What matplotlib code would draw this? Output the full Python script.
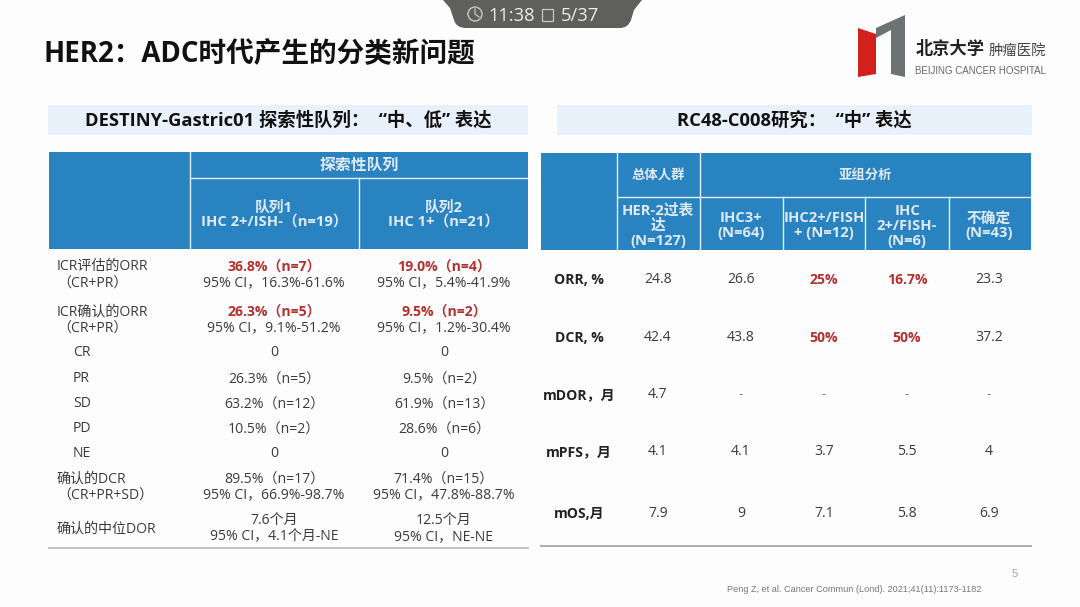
import matplotlib
matplotlib.use("Agg")
import matplotlib.pyplot as plt
from matplotlib.patches import Rectangle, Polygon, Circle, PathPatch
from matplotlib.path import Path

plt.rcParams['font.family'] = ['Open Sans', 'Noto Sans CJK SC', 'DejaVu Sans']

# ---------- data ----------
title = "HER2：ADC时代产生的分类新问题"
left_band = "DESTINY-Gastric01 探索性队列：  “中、低” 表达"
right_band = "RC48-C008研究：  “中” 表达"

left_super = "探索性队列"
left_cols = ["队列1\nIHC 2+/ISH-（n=19）", "队列2\nIHC 1+（n=21）"]
left_labels = ["ICR评估的ORR\n（CR+PR）", "ICR确认的ORR\n（CR+PR）", "CR", "PR", "SD", "PD", "NE",
               "确认的DCR\n（CR+PR+SD）", "确认的中位DOR"]
left_main_1 = ["36.8%（n=7）", "26.3%（n=5）", "0", "26.3%（n=5）", "63.2%（n=12）", "10.5%（n=2）", "0",
               "89.5%（n=17）", "7.6个月"]
left_sub_1 = ["95% CI，16.3%-61.6%", "95% CI，9.1%-51.2%", "", "", "", "", "",
              "95% CI，66.9%-98.7%", "95% CI，4.1个月-NE"]
left_main_2 = ["19.0%（n=4）", "9.5%（n=2）", "0", "9.5%（n=2）", "61.9%（n=13）", "28.6%（n=6）", "0",
               "71.4%（n=15）", "12.5个月"]
left_sub_2 = ["95% CI，5.4%-41.9%", "95% CI，1.2%-30.4%", "", "", "", "", "",
              "95% CI，47.8%-88.7%", "95% CI，NE-NE"]
left_red_rows = [0, 1]

right_top = ["总体人群", "亚组分析"]
right_cols = ["HER-2过表\n达\n(N=127)", "IHC3+\n(N=64)", "IHC2+/FISH\n+ (N=12)", "IHC\n2+/FISH-\n(N=6)", "不确定\n(N=43)"]
right_labels = ["ORR, %", "DCR, %", "mDOR，月", "mPFS，月", "mOS,月"]
right_overall = ["24.8", "42.4", "4.7", "4.1", "7.9"]
right_ihc3 = ["26.6", "43.8", "-", "4.1", "9"]
right_fish_pos = ["25%", "50%", "-", "3.7", "7.1"]
right_fish_neg = ["16.7%", "50%", "-", "5.5", "5.8"]
right_unknown = ["23.3", "37.2", "-", "4", "6.9"]
right_red = ["25%", "16.7%", "50%"]

footnote = "Peng Z, et al. Cancer Commun (Lond). 2021;41(11):1173-1182"
page_no = "5"
clock_text = "11:38"
slide_text = "5/37"

# ---------- layout / style ----------
BLUE = "#2a83c1"
BAND = "#e8f1f9"
HEAD = "#dfeaf4"
INK = "#3a3a3a"
RED = "#b3302e"
BG = "#fdfdfd"
DY = 0.8
BODY = 10.1

fig = plt.figure(figsize=(10.8, 6.07), dpi=100, facecolor=BG)
ax = fig.add_axes([0, 0, 1, 1])
ax.set_xlim(0, 1080)
ax.set_ylim(607, 0)
ax.axis("off")


def T(x, y, s, size=BODY, color=INK, ha="center", weight="normal", **kw):
    ax.text(x, y + DY, s, fontsize=size, color=color, ha=ha, va="center", fontweight=weight, **kw)


def head(x, y, s, size=10.6):
    ax.text(x, y + DY, s, fontsize=size, color=HEAD, ha="center", va="center",
            fontweight="bold", linespacing=1.07, multialignment="center")


# status pill
pill = Path([(443, 0), (450, 8), (454, 20), (456, 28), (466, 28), (620, 28), (628, 28), (631, 20), (634, 10), (642, 0), (443, 0)],
            [Path.MOVETO, Path.LINETO, Path.LINETO, Path.CURVE3, Path.CURVE3, Path.LINETO,
             Path.CURVE3, Path.CURVE3, Path.LINETO, Path.LINETO, Path.CLOSEPOLY])
ax.add_patch(PathPatch(pill, fc="#5f605d", ec="none"))
ax.add_patch(Circle((475, 14), 7, fc="none", ec="#c8c8c8", lw=1))
ax.plot([475, 475, 479], [9, 14, 17], color="#c8c8c8", lw=0.9)
T(488, 15, clock_text, size=13.2, color="#ececec", ha="left")
ax.add_patch(Rectangle((542, 9), 10.5, 11.5, fc="none", ec="#c8c8c8", lw=0.9))
T(561, 15, slide_text, size=13.2, color="#ececec", ha="left")

# title
T(44, 54, title, size=19.9, color="#111111", ha="left", weight="bold")

# logo
ax.add_patch(Polygon([(858, 28), (876, 34), (876, 74), (858, 77)], closed=True, fc="#d2201d", ec="none"))
ax.add_patch(Polygon([(876, 28), (905, 15), (905, 77), (891, 74), (891, 30), (876, 38)],
                     closed=True, fc="#6e7272", ec="none"))
T(916, 48, "北京大学", size=12.4, color="#222222", ha="left", family=["Noto Sans CJK SC"], weight="bold")
T(989, 50, "肿瘤医院", size=10.4, color="#444444", ha="left", family=["Noto Sans CJK SC"])
T(915, 70, "BEIJING CANCER HOSPITAL", size=7.0, color="#666666", ha="left",
  family=["Liberation Sans"])

# bands
ax.add_patch(Rectangle((48, 105), 480, 30, fc=BAND, ec="none"))
ax.add_patch(Rectangle((557, 105), 475, 30, fc=BAND, ec="none"))
T(288, 120, left_band, size=13.2, color="#111111", weight="bold")
T(794, 120, right_band, size=13.2, color="#111111", weight="bold")

# left table header
ax.add_patch(Rectangle((49, 152), 479, 97, fc=BLUE, ec="none"))
for xs, ys in [([190, 190], [152, 249]), ([190, 528], [178, 178]), ([359, 359], [178, 249])]:
    ax.plot(xs, ys, color="#e4eef6", lw=1)
head(359, 165, left_super, size=11.4)
left_centers = [274, 444]
for c, s in zip(left_centers, left_cols):
    head(c, 214, s)

# left table body
left_single_y = {2: 352, 3: 378, 4: 403, 5: 428, 6: 453}
left_double_y = {0: (266, 282), 1: (311, 327), 7: (478, 494), 8: (520, 536)}
for i, lab in enumerate(left_labels):
    if i in left_single_y:
        y = left_single_y[i]
        T(73, y, lab, ha="left")
        T(left_centers[0], y, left_main_1[i])
        T(left_centers[1], y, left_main_2[i])
    else:
        y1, y2 = left_double_y[i]
        if "\n" in lab:
            a, b = lab.split("\n")
            T(57, y1, a, ha="left")
            T(57, y2, b, ha="left")
        else:
            T(57, (y1 + y2) / 2, lab, ha="left")
        red = i in left_red_rows
        for c, m, s in ((left_centers[0], left_main_1[i], left_sub_1[i]),
                        (left_centers[1], left_main_2[i], left_sub_2[i])):
            T(c, y1, m, color=RED if red else INK, weight="bold" if red else "normal")
            T(c, y2, s)
ax.plot([49, 528], [548, 548], color="#b5b5b5", lw=1.2)

# right table header
ax.add_patch(Rectangle((541, 153), 490, 97, fc=BLUE, ec="none"))
for x in [617, 700]:
    ax.plot([x, x], [153, 250], color="#e4eef6", lw=1)
for x in [783, 865, 949]:
    ax.plot([x, x], [197, 250], color="#e4eef6", lw=1)
ax.plot([617, 1031], [197, 197], color="#e4eef6", lw=1)
right_centers = [658, 741, 824, 907, 989]
head(658, 175, right_top[0], size=9.6)
head(865, 175, right_top[1], size=9.6)
for c, s in zip(right_centers, right_cols):
    head(c, 225, s)

# right table body
right_y = [279, 337, 394, 451, 513]
columns = [right_overall, right_ihc3, right_fish_pos, right_fish_neg, right_unknown]
for r, (y, lab) in enumerate(zip(right_y, right_labels)):
    T(579, y, lab, size=BODY, color="#222222", weight="bold")
    for c, col in zip(right_centers, columns):
        v = col[r]
        red = v in right_red
        T(c, y, v, color=RED if red else ("#888888" if v == "-" else INK),
          weight="bold" if red else "normal")
ax.plot([541, 1031], [546, 546], color="#a4acb8", lw=1.4)

# footer
T(1015, 573, page_no, size=8.2, color="#a0a0a0", family=["Liberation Sans"])
T(727, 589, footnote, size=6.6, color="#777777", ha="left", family=["Liberation Sans"])

fig.savefig("out.png", dpi=100, facecolor=BG)
